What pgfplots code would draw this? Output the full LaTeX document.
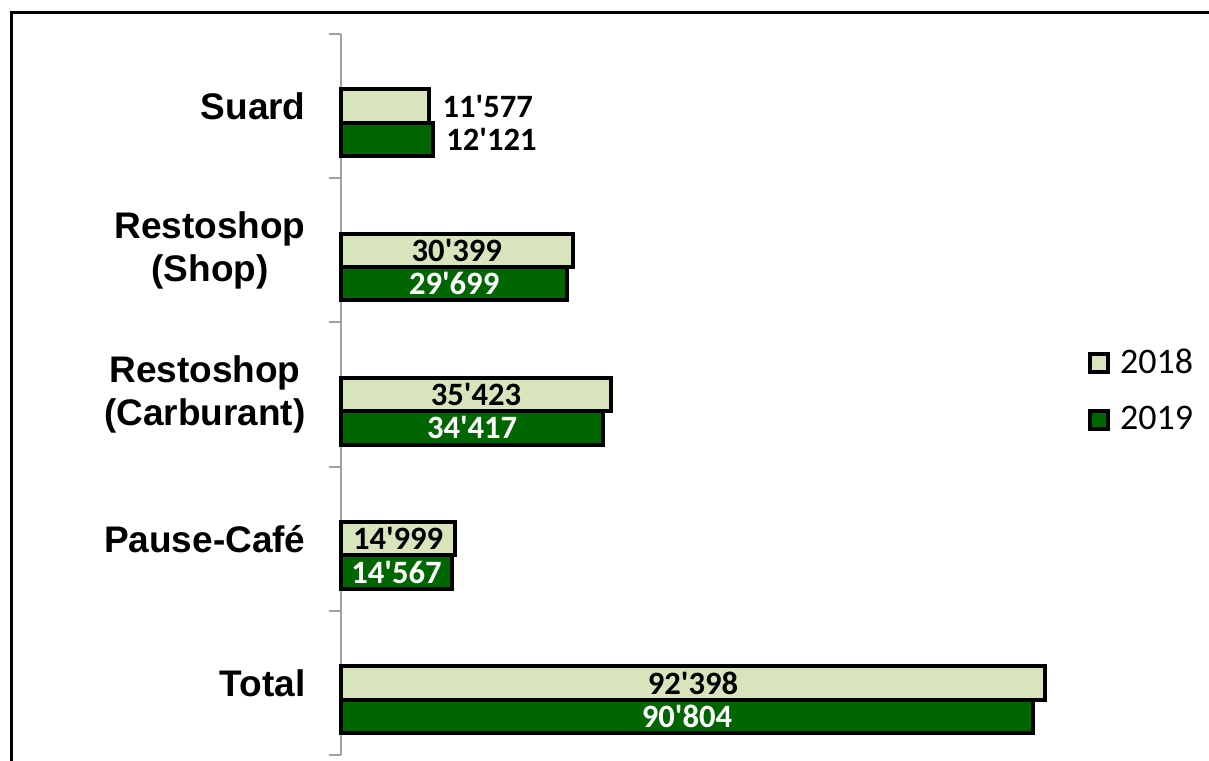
\documentclass[border=0pt]{standalone}
\usepackage{pgfplots}
\pgfplotsset{compat=1.18}
\usepackage{pgfplotstable}
\usepackage{fontspec}
\setmainfont{Liberation Sans}
\newfontfamily\calib{Carlito}[Ligatures=TeXOff]
\definecolor{c18}{HTML}{D8E4BC}
\definecolor{c19}{HTML}{006600}
\definecolor{axgray}{HTML}{A0A0A0}
\newcommand{\lblf}{\calib\bfseries\fontsize{16.3}{18}\selectfont}

\pgfplotstableread{
idx v18 v19 l18 l19
0 11577 12121 11'577 12'121
1 30399 29699 30'399 29'699
2 35423 34417 35'423 34'417
3 14999 14567 14'999 14'567
4 92398 90804 92'398 90'804
}\data

\begin{document}
\begin{tikzpicture}
\useasboundingbox (0,0) rectangle (604.5pt,380pt);
\draw[line width=1.5pt] (5.5pt,-2pt) -- (5.5pt,373.5pt) -- (610pt,373.5pt);
\begin{axis}[
  at={(170.5pt,2.5pt)}, anchor=south west,
  scale only axis, width=381pt, height=360.5pt,
  xmin=0, xmax=100000,
  ymin=-0.5, ymax=4.5, y dir=reverse,
  axis x line=none, axis y line*=left,
  axis line style={axgray, line width=1pt},
  ytick={0,1,2,3,4},
  yticklabels={Suard, Restoshop\\(Shop), Restoshop\\(Carburant), Pause-Café, Total},
  minor ytick={-0.5,0.5,...,4.5},
  tick align=outside, major tick length=0pt, minor tick length=6pt,
  minor tick style={axgray, line width=1pt},
  major tick style={draw=none},
  yticklabel style={font=\fontsize{18.5}{21.5}\selectfont\bfseries, align=center, anchor=east, inner sep=0pt, xshift=-17.5pt},
  clip=false,
  bar width=0.232,
  legend style={at={(0.98,0.505)}, anchor=west, draw=none, fill=none, inner sep=0pt,
    row sep=11pt, font=\calib\fontsize{18}{20}\selectfont, cells={anchor=west},
    /tikz/every odd column/.append style={column sep=3pt}},
  legend image code/.code={\draw[#1, line width=2pt] (0pt,-4.5pt) rectangle (9pt,4.5pt);},
]
\addplot[xbar, fill=c18, draw=black, line width=2pt, bar shift=0] table[x=v18, y=idx]{\data};
\addplot[xbar, fill=c19, draw=black, line width=2pt, bar shift=0.232] table[x=v19, y=idx]{\data};
\legend{2018, 2019}

% inside labels
\addplot[forget plot, draw=none, mark=none, nodes near coords, point meta=explicit symbolic,
  every node near coord/.append style={anchor=center, inner sep=0pt, font=\lblf, text=black},
  skip coords between index={0}{1}]
  table[x expr=\thisrow{v18}/2, y=idx, meta=l18]{\data};
\addplot[forget plot, draw=none, mark=none, nodes near coords, point meta=explicit symbolic,
  every node near coord/.append style={anchor=center, inner sep=0pt, font=\lblf, text=white},
  skip coords between index={0}{1}]
  table[x expr=\thisrow{v19}/2, y expr=\thisrow{idx}+0.232, meta=l19]{\data};
% outside labels (Suard)
\addplot[forget plot, draw=none, mark=none, nodes near coords, point meta=explicit symbolic,
  every node near coord/.append style={anchor=west, inner sep=0pt, xshift=6.5pt, font=\lblf, text=black},
  skip coords between index={1}{5}]
  table[x=v18, y=idx, meta=l18]{\data};
\addplot[forget plot, draw=none, mark=none, nodes near coords, point meta=explicit symbolic,
  every node near coord/.append style={anchor=west, inner sep=0pt, xshift=6.3pt, font=\lblf, text=black},
  skip coords between index={1}{5}]
  table[x=v19, y expr=\thisrow{idx}+0.232, meta=l19]{\data};
\end{axis}
\end{tikzpicture}
\end{document}
